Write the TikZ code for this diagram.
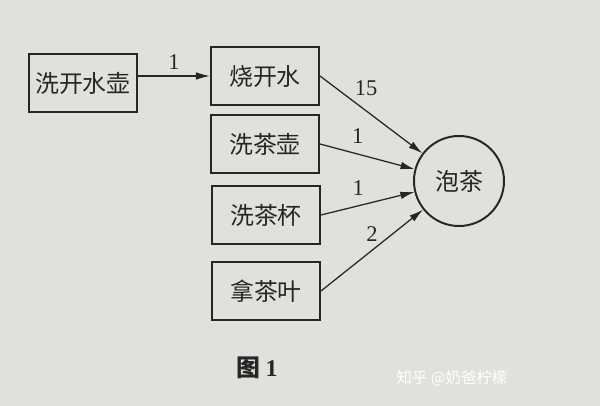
\documentclass[tikz,border=0pt]{standalone}
\usepackage{fontspec}
\usepackage{tikz}
\usetikzlibrary{arrows.meta, positioning}
\newfontfamily\cjk{Noto Sans CJK SC}
\newfontfamily\numfont{Liberation Serif}
\definecolor{paper}{RGB}{224, 224, 221}
\definecolor{ink}{RGB}{38, 38, 38}

\begin{document}
\begin{tikzpicture}[
    x=0.025cm, y=-0.025cm,
    task/.style={rectangle, draw=ink, fill=paper, line width=1.4pt, minimum width=2.7cm, minimum height=1.43cm, font=\cjk\fontsize{17}{19}\selectfont, text=ink},
    goal/.style={circle, draw=ink, fill=paper, line width=1.4pt, minimum size=2.25cm, inner sep=0pt, font=\cjk\fontsize{17}{19}\selectfont, text=ink},
    conn/.style={-{Latex[length=3.5mm, width=1.9mm]}, line width=0.9pt, draw=ink},
    weight/.style={font=\numfont\fontsize{16}{18}\selectfont, text=ink, inner sep=1pt}
]
    \useasboundingbox[fill=paper] (0,0) rectangle (600,406);

    % Tasks
    \node[task] (xkshh) at (83, 83) {洗开水壶};
    \node[task] (skshui) at (265, 76) {烧开水};
    \node[task] (xchu) at (265, 144) {洗茶壶};
    \node[task] (xcbei) at (266, 215) {洗茶杯};
    \node[task] (ncye) at (266, 291) {拿茶叶};

    % Goal
    \node[goal] (paocha) at (459, 181) {泡茶};

    % Connections
    \draw[conn] (xkshh.east |- skshui.west) -- node[weight, above=3pt]{1} (skshui.west);
    \draw[conn] (skshui.east) -- node[weight, pos=0.45, above=9pt]{15} (paocha);
    \draw[conn] (xchu.east) -- node[weight, pos=0.4, above=6pt]{1} (paocha);
    \draw[conn] (xcbei.east) -- node[weight, pos=0.4, above=6pt]{1} (paocha);
    \draw[conn] (ncye.east) -- node[weight, pos=0.5, above=5pt]{2} (paocha);

    % Caption
    \node[font=\cjk\bfseries\fontsize{17}{19}\selectfont, text=ink] (caption) at (257, 368) {图 {\numfont\bfseries 1}};
    \node[font=\cjk\fontsize{11}{13}\selectfont, text=white] (mark) at (452, 378) {知乎 @奶爸柠檬};

\end{tikzpicture}
\end{document}
